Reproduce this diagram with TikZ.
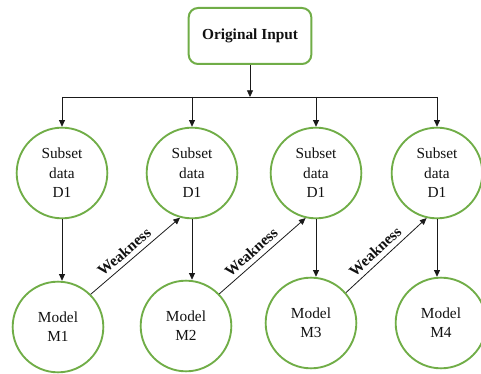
\documentclass[tikz,border=0pt]{standalone}
\usepackage{fontspec}
\setmainfont{Liberation Serif}
\usetikzlibrary{arrows.meta,calc}
\definecolor{LeafGreen}{HTML}{70AD47}
\definecolor{LineInk}{HTML}{1A1A1A}
\definecolor{TextInk}{HTML}{111111}

\begin{document}
\begin{tikzpicture}[x=0.75pt,y=0.75pt,every node/.style={font=\fontsize{11.5}{14.5}\selectfont,text=TextInk,align=center},arrow/.style={-{Triangle[length=5pt,width=4.5pt]},line width=0.6pt,draw=LineInk},bus/.style={line width=0.6pt,draw=LineInk},inbox/.style={draw=LeafGreen,line width=1.5pt,rounded corners=7pt,minimum width=92pt,minimum height=42pt},circ/.style={circle,draw=LeafGreen,line width=1.4pt,minimum size=68pt,inner sep=0pt},weak/.style={font=\fontsize{11.5}{14}\selectfont\bfseries,sloped,above,pos=0.45,inner sep=3.5pt}]
\useasboundingbox (0,0) rectangle (481,374);

\node[inbox] (orig) at (250,338) {\textbf{Original Input}};
\coordinate (split) at (250,277);
\node[circ] (s1) at (62,201) {Subset\\data\\D1}; \node[circ] (s2) at (192,201) {Subset\\data\\D1};
\node[circ] (s3) at (316,201) {Subset\\data\\D1}; \node[circ] (s4) at (437,201) {Subset\\data\\D1};
\node[circ] (m1) at (58,47) {Model\\M1}; \node[circ] (m2) at (186,48) {Model\\M2};
\node[circ] (m3) at (311,51) {Model\\M3}; \node[circ] (m4) at (441,51) {Model\\M4};

\draw[arrow] (orig) -- (split);
\draw[bus] (s1 |- split) -- (s4 |- split);
\foreach \s in {s1,s2,s3,s4} \draw[arrow] (\s |- split) -- (\s);
\foreach \s/\m in {s1/m1,s2/m2,s3/m3,s4/m4} \draw[arrow] (\s) -- (\s |- \m.north);
\draw[arrow] (m1.45) -- (s2.255) node[weak] {Weakness}; \draw[arrow] (m2.44) -- (s3.257) node[weak] {Weakness}; \draw[arrow] (m3.41) -- (s4.257) node[weak] {Weakness};

\end{tikzpicture}
\end{document}
